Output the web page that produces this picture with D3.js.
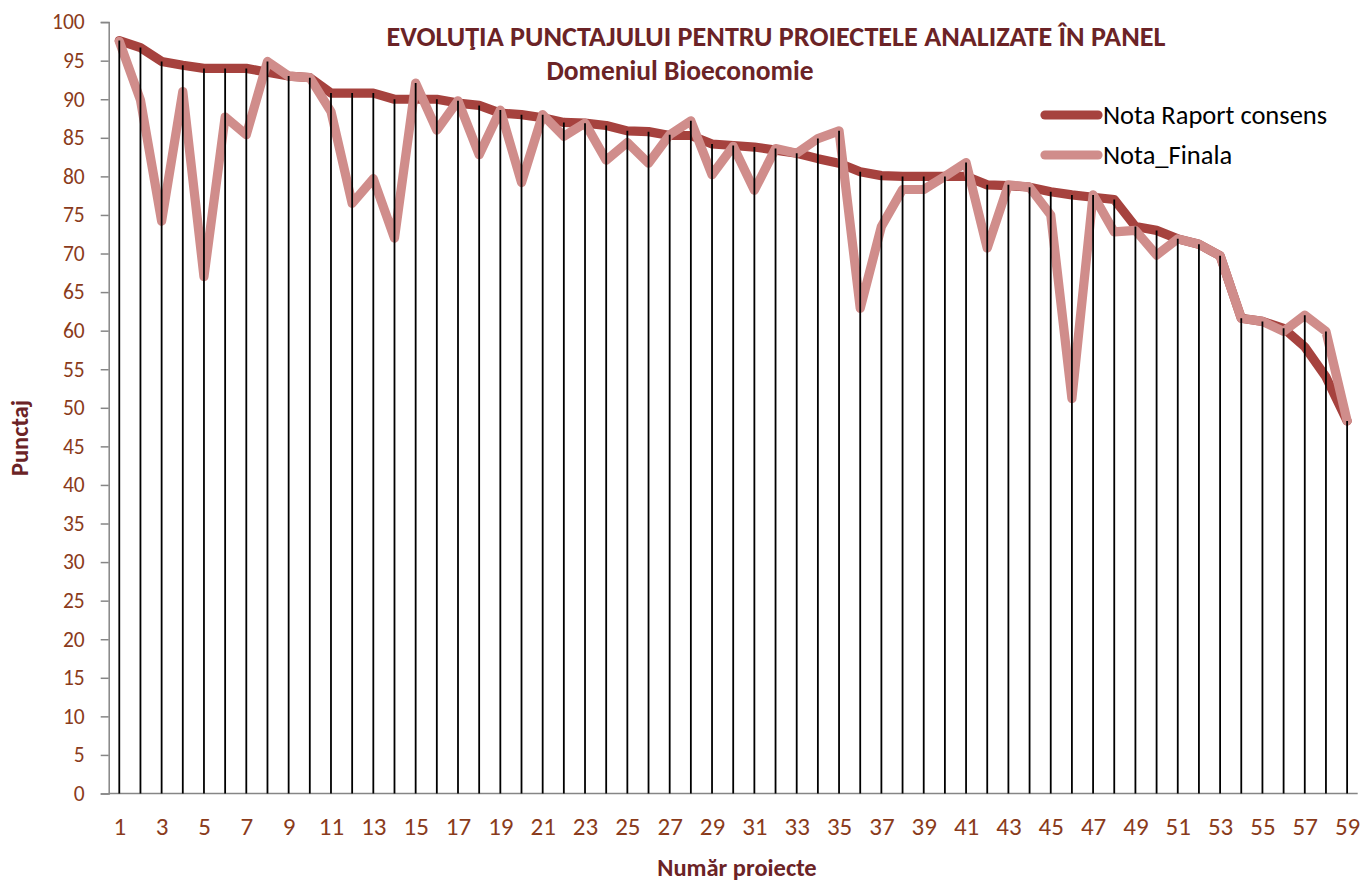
<!DOCTYPE html>
<html><head><meta charset="utf-8">
<script src="https://cdn.jsdelivr.net/npm/d3@7"></script>
<style>body{margin:0;background:#fff}svg{display:block}</style>
</head><body>
<script>
const categories = [1,2,3,4,5,6,7,8,9,10,11,12,13,14,15,16,17,18,19,20,21,22,23,24,25,26,27,28,29,30,31,32,33,34,35,36,37,38,39,40,41,42,43,44,45,46,47,48,49,50,51,52,53,54,55,56,57,58,59];
const notaRaportConsens = [97.6,96.7,94.9,94.4,94.0,94.0,94.0,93.5,93.0,92.8,90.8,90.8,90.8,90.0,90.0,90.0,89.5,89.2,88.2,88.0,87.6,87.0,86.9,86.6,85.9,85.8,85.3,85.3,84.2,84.0,83.8,83.4,83.0,82.3,81.7,80.6,80.1,80.0,80.0,80.0,80.0,78.9,78.8,78.6,78.0,77.6,77.3,77.0,73.5,73.0,71.9,71.2,69.7,61.6,61.2,60.3,57.9,54.0,48.3];
const notaFinala = [97.5,89.9,74.2,91.0,67.0,87.7,85.4,94.9,93.0,92.8,88.4,76.5,79.7,72.0,92.1,86.0,89.8,82.8,88.6,79.2,88.0,85.2,86.9,82.1,84.4,81.7,85.4,87.2,80.2,83.9,78.2,83.6,83.0,84.9,85.9,62.9,73.5,78.3,78.3,80.0,81.8,70.7,78.9,78.6,75.0,51.2,77.6,72.8,73.0,69.8,71.9,71.2,69.7,61.6,61.2,59.9,62.0,59.9,48.3];
const yTicks = [0,5,10,15,20,25,30,35,40,45,50,55,60,65,70,75,80,85,90,95,100];
const xTickLabels = [1,3,5,7,9,11,13,15,17,19,21,23,25,27,29,31,33,35,37,39,41,43,45,47,49,51,53,55,57,59];
const seriesNames = ["Nota Raport consens","Nota_Finala"];
const titleText = "EVOLUŢIA PUNCTAJULUI PENTRU PROIECTELE ANALIZATE ÎN PANEL";
const subtitleText = "Domeniul Bioeconomie";
const yTitle = "Punctaj";
const xTitle = "Număr proiecte";

const W = 1362, H = 883;
const plotLeft = 108.7, plotRight = 1357.7, plotTop = 22.1, plotBottom = 793.5;
const darkC = "#a6423e", lightC = "#d08d8b", labelC = "#8a3b1b", titleC = "#6b2326";
const calibri = "Carlito, Lato, 'Open Sans', sans-serif";

const svg = d3.select("body").append("svg").attr("width", W).attr("height", H);

const x = d3.scalePoint().domain(categories).range([plotLeft, plotRight]).padding(0.5);
const y = d3.scaleLinear().domain([0, 100]).range([plotBottom, plotTop]);

// y axis
const yAxis = svg.append("g").attr("transform", `translate(${plotLeft},0)`)
  .call(d3.axisLeft(y).tickValues(yTicks).tickSize(8).tickPadding(16));
yAxis.attr("font-family", calibri).attr("font-size", 21.5);
yAxis.select(".domain").attr("stroke", "#868686").attr("stroke-width", 1.5);
yAxis.selectAll(".tick line").attr("stroke", "#868686").attr("stroke-width", 1.5);
yAxis.selectAll(".tick text").attr("fill", labelC);

// x axis
const xAxis = svg.append("g").attr("transform", `translate(0,${plotBottom})`)
  .call(d3.axisBottom(x).tickValues(xTickLabels).tickSize(0).tickPadding(24));
xAxis.attr("font-family", calibri).attr("font-size", 25);
xAxis.select(".domain").attr("stroke", "#868686").attr("stroke-width", 1.5).attr("d", `M${plotLeft},0H${plotRight}`);
xAxis.selectAll(".tick text").attr("fill", labelC);

// lines
const data = categories.map((c, i) => ({c, a: notaRaportConsens[i], b: notaFinala[i]}));
const line = key => d3.line().x(d => x(d.c)).y(d => y(d[key]));
svg.append("path").datum(data).attr("d", line("a")).attr("fill", "none")
  .attr("stroke", darkC).attr("stroke-width", 9.2).attr("stroke-linejoin", "round").attr("stroke-linecap", "round");
svg.append("path").datum(data).attr("d", line("b")).attr("fill", "none")
  .attr("stroke", lightC).attr("stroke-width", 9.2).attr("stroke-linejoin", "round").attr("stroke-linecap", "round");

// drop lines
svg.append("g").selectAll("line").data(data).join("line")
  .attr("x1", d => x(d.c)).attr("x2", d => x(d.c))
  .attr("y1", d => y(Math.max(d.a, d.b))).attr("y2", y(0))
  .attr("stroke", "#000").attr("stroke-width", 1.8);

// titles
svg.append("text").attr("x", 776).attr("y", 46).attr("text-anchor", "middle")
  .attr("font-family", calibri).attr("font-weight", "bold").attr("font-size", 28.2).attr("fill", titleC).text(titleText);
svg.append("text").attr("x", 680).attr("y", 80).attr("text-anchor", "middle")
  .attr("font-family", calibri).attr("font-weight", "bold").attr("font-size", 27.5).attr("fill", titleC).text(subtitleText);
svg.append("text").attr("transform", `translate(28,438) rotate(-90)`).attr("text-anchor", "middle")
  .attr("font-family", calibri).attr("font-weight", "bold").attr("font-size", 24.5).attr("fill", titleC).text(yTitle);
svg.append("text").attr("x", 737).attr("y", 876).attr("text-anchor", "middle")
  .attr("font-family", calibri).attr("font-weight", "bold").attr("font-size", 24.5).attr("fill", titleC).text(xTitle);

// legend
const lg = svg.append("g");
[darkC, lightC].forEach((c, i) => {
  const yy = 115 + i * 40;
  lg.append("line").attr("x1", 1045).attr("x2", 1098).attr("y1", yy).attr("y2", yy)
    .attr("stroke", c).attr("stroke-width", 9.2).attr("stroke-linecap", "round");
  lg.append("text").attr("x", 1103).attr("y", yy + 9).attr("font-family", calibri)
    .attr("font-size", 26.5).attr("fill", "#000").text(seriesNames[i]);
});
</script>
</body></html>
